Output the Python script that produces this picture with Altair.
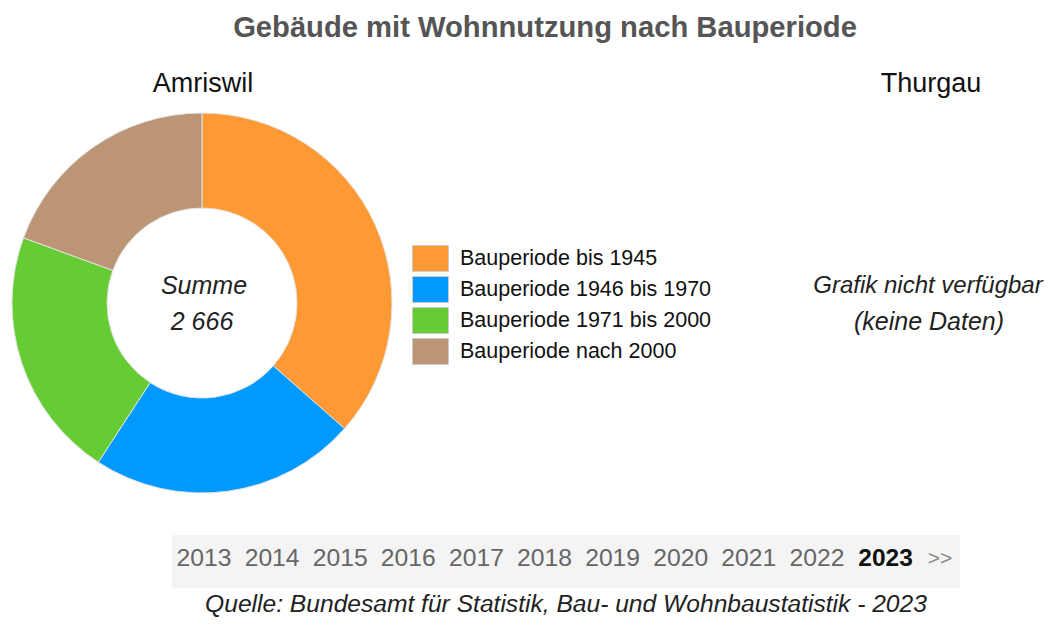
import altair as alt
import pandas as pd

categories = ["Bauperiode bis 1945", "Bauperiode 1946 bis 1970",
              "Bauperiode 1971 bis 2000", "Bauperiode nach 2000"]
values = [973, 605, 570, 518]
colors = ["#FF9933", "#0099FF", "#66CC33", "#BC9574"]
total_label = "2 666"
years = ["2013", "2014", "2015", "2016", "2017", "2018", "2019", "2020", "2021", "2022"]
current_year = "2023"
title_text = "Gebäude mit Wohnnutzung nach Bauperiode"
left_region = "Amriswil"
right_region = "Thurgau"
source_text = "Quelle: Bundesamt für Statistik, Bau- und Wohnbaustatistik - 2023"

FONT = "Liberation Sans"
W, H = 1037, 609

df = pd.DataFrame({"cat": categories, "value": values, "order": list(range(len(categories)))})

arc = alt.Chart(df).mark_arc(innerRadius=95, outerRadius=190, stroke="#e2e2e2", strokeWidth=1).encode(
    theta=alt.Theta("value:Q", stack=True),
    order=alt.Order("order:Q"),
    color=alt.Color("cat:N", sort=categories,
                    scale=alt.Scale(domain=categories, range=colors),
                    legend=alt.Legend(title=None, orient="none", legendX=409, legendY=237,
                                      symbolType="M-1.385,-1H1.385V1H-1.385Z", symbolSize=676,
                                      symbolStrokeColor="#cccccc", symbolStrokeWidth=1,
                                      symbolOpacity=1,
                                      labelFont=FONT, labelFontSize=21.5, labelColor="#111111",
                                      labelLimit=400, labelOffset=16, rowPadding=0, padding=0)),
    x=alt.value(194), y=alt.value(295),
)

def txt(text, x, y, size, color="#111111", weight="normal", style="normal", align="center",
        baseline="middle"):
    return alt.Chart(pd.DataFrame({"t": [text]})).mark_text(
        font=FONT, fontSize=size, color=color, fontWeight=weight, fontStyle=style,
        align=align, baseline=baseline).encode(text="t:N", x=alt.value(x), y=alt.value(y))

layers = [arc,
          txt(title_text, 537, 20, 29.2, color="#555555", weight="bold"),
          txt(left_region, 195, 76, 27),
          txt(right_region, 923, 76, 27),
          txt("Summe", 196, 278, 25, color="#222222", style="italic"),
          txt(total_label, 194, 314, 25, color="#222222", style="italic"),
          txt("Grafik nicht verfügbar", 920, 278, 24, color="#222222", style="italic"),
          txt("(keine Daten)", 921, 314, 25, color="#222222", style="italic"),
          txt(source_text, 558, 609, 24.6, color="#222222", style="italic", baseline="bottom"),
          ]

bg = alt.Chart(pd.DataFrame({"a": [0]})).mark_rect(color="#f4f4f4").encode(
    x=alt.value(164), x2=alt.value(952), y=alt.value(527), y2=alt.value(580))

ydf = pd.DataFrame({"year": years, "i": list(range(len(years)))})
year_layer = alt.Chart(ydf).mark_text(font=FONT, fontSize=24.7, color="#666666",
                                      align="center", baseline="middle").encode(
    text="year:N",
    x=alt.X("i:Q", scale=alt.Scale(domain=[0, 10], range=[196, 877]), axis=None),
    y=alt.value(551))

cur = txt(current_year, 877.5, 551, 24.5, color="#111111", weight="bold")
nxt = txt(">>", 932, 551, 21, color="#888888")

chart = alt.layer(bg, *layers, year_layer, cur, nxt).properties(
    width=W, height=H, padding=0, autosize="none"
).configure_view(stroke=None).resolve_scale(x="independent")

chart.save("out.html", embed_options={"renderer": "svg", "actions": False})
